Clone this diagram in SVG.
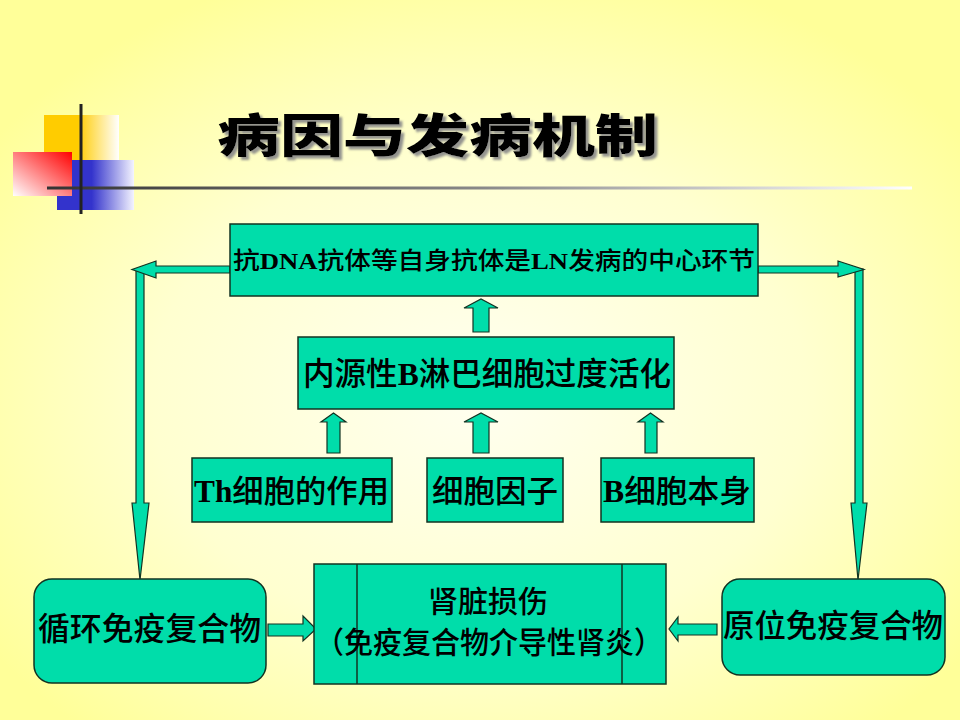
<svg xmlns="http://www.w3.org/2000/svg" width="960" height="720" viewBox="0 0 960 720">
<defs>
<radialGradient id="bg" cx="50%" cy="55%" r="62%">
<stop offset="0" stop-color="#FFFFF0"/>
<stop offset="0.55" stop-color="#FFFFD0"/>
<stop offset="1" stop-color="#FFFF99"/>
</radialGradient>
<linearGradient id="gYel" x1="0" y1="0" x2="1" y2="0">
<stop offset="0" stop-color="#FFCC00"/>
<stop offset="0.45" stop-color="#FFCC00"/>
<stop offset="1" stop-color="#FFFFFF"/>
</linearGradient>
<linearGradient id="gBlue" x1="0" y1="0" x2="1" y2="0">
<stop offset="0" stop-color="#3333CC"/>
<stop offset="0.45" stop-color="#3333CC"/>
<stop offset="1" stop-color="#F4F4FF"/>
</linearGradient>
<linearGradient id="gRed" x1="1" y1="0" x2="0" y2="1">
<stop offset="0" stop-color="#FF0000"/>
<stop offset="1" stop-color="#FFFFFF"/>
</linearGradient>
<linearGradient id="gLine" x1="0" y1="0" x2="1" y2="0">
<stop offset="0" stop-color="#333333"/>
<stop offset="0.5" stop-color="#888888"/>
<stop offset="1" stop-color="#FFFFFF"/>
</linearGradient>
<filter id="shadow" x="-5%" y="-20%" width="115%" height="150%">
<feDropShadow dx="3" dy="3" stdDeviation="0.8" flood-color="#888888" flood-opacity="0.9"/>
</filter>
<style>
.box{fill:#00DDAA;stroke:#123322;stroke-width:1.5}
.arr{fill:#00DDAA;stroke:#123322;stroke-width:1.2;stroke-linejoin:miter}
.t{font-family:"Noto Sans CJK SC","Liberation Sans",sans-serif;font-weight:500;fill:#000;text-anchor:start}
.lat{font-family:"Liberation Serif",serif;font-weight:bold}
.title{font-family:"Noto Sans CJK SC",sans-serif;font-weight:900;font-size:46px;fill:#000}
</style>
</defs>
<rect width="960" height="720" fill="url(#bg)"/>
<g id="decoration">
<rect x="44" y="115" width="75" height="72" fill="url(#gYel)"/>
<rect x="57" y="160" width="77" height="50" fill="url(#gBlue)"/>
<rect x="13" y="152" width="59" height="44" fill="url(#gRed)"/>
<rect x="47" y="186.5" width="865" height="3" fill="url(#gLine)"/>
<rect x="79.5" y="104" width="3" height="110" fill="#222222"/>
</g>
<g id="title">
<text class="title" x="217" y="152" filter="url(#shadow)" textLength="441" lengthAdjust="spacingAndGlyphs">病因与发病机制</text>
</g>
<g id="connectors">
<polygon class="arr" points="136,269 144,269 144,503 149,503 140,580 132,503 136,503"/>
<polygon class="arr" points="230,266 156,266 156,261 132,269.5 156,278 156,273 230,273"/>
<polygon class="arr" points="855,269 863,269 863,503 867,503 858,580 851,503 855,503"/>
<polygon class="arr" points="758,266 838,266 838,261 864,269.5 838,277 838,273 758,273"/>
<polygon class="arr" points="473,332 473,308 464,308 481,299 498,308 489,308 489,332"/>
<polygon class="arr" points="327,453 327,422 321,422 333.5,413 346,422 340,422 340,453"/>
<polygon class="arr" points="473,453 473,422 464,422 481,413 498,422 489,422 489,453"/>
<polygon class="arr" points="645,453 645,422 638,422 650.5,413 663,422 657,422 657,453"/>
<polygon class="arr" points="268,624 303,624 303,616 316,629 303,641 303,636 268,636"/>
<polygon class="arr" points="717,624 678,624 678,617 669,629 678,641 678,635 717,635"/>
</g>
<g id="node-core">
<rect class="box" x="230" y="224" width="528" height="72"/>
<text class="t" x="233" y="269" font-size="24" textLength="522" lengthAdjust="spacingAndGlyphs">抗<tspan class="lat">DNA</tspan>抗体等自身抗体是<tspan class="lat">LN</tspan>发病的中心环节</text>
</g>
<g id="node-bcell">
<rect class="box" x="298" y="337" width="376" height="72"/>
<text class="t" x="303" y="385" font-size="32" textLength="368" lengthAdjust="spacingAndGlyphs">内源性<tspan class="lat">B</tspan>淋巴细胞过度活化</text>
</g>
<g id="node-th">
<rect class="box" x="192" y="458" width="200" height="64"/>
<text class="t" x="194" y="502" font-size="31" textLength="195" lengthAdjust="spacingAndGlyphs"><tspan class="lat">Th</tspan>细胞的作用</text>
</g>
<g id="node-cytokine">
<rect class="box" x="427" y="458" width="136" height="64"/>
<text class="t" x="432" y="502" font-size="31" textLength="126" lengthAdjust="spacingAndGlyphs">细胞因子</text>
</g>
<g id="node-bself">
<rect class="box" x="601" y="458" width="153" height="64"/>
<text class="t" x="603" y="502" font-size="31" textLength="148" lengthAdjust="spacingAndGlyphs"><tspan class="lat">B</tspan>细胞本身</text>
</g>
<g id="node-circulating">
<rect class="box" x="34" y="579" width="232" height="104" rx="18" ry="18"/>
<text class="t" x="38" y="640" font-size="32" textLength="223" lengthAdjust="spacingAndGlyphs">循环免疫复合物</text>
</g>
<g id="node-kidney">
<rect class="box" x="314" y="564" width="352" height="120"/>
<line x1="357" y1="564" x2="357" y2="684" stroke="#123322" stroke-width="1.5"/>
<line x1="622" y1="564" x2="622" y2="684" stroke="#123322" stroke-width="1.5"/>
<text class="t" x="428" y="612" font-size="30" textLength="120" lengthAdjust="spacingAndGlyphs">肾脏损伤</text>
<text class="t" x="315" y="653" font-size="30" textLength="348" lengthAdjust="spacingAndGlyphs">（免疫复合物介导性肾炎）</text>
</g>
<g id="node-insitu">
<rect class="box" x="722" y="579" width="223" height="96" rx="18" ry="18"/>
<text class="t" x="723" y="637" font-size="32" textLength="220" lengthAdjust="spacingAndGlyphs">原位免疫复合物</text>
</g>
</svg>
